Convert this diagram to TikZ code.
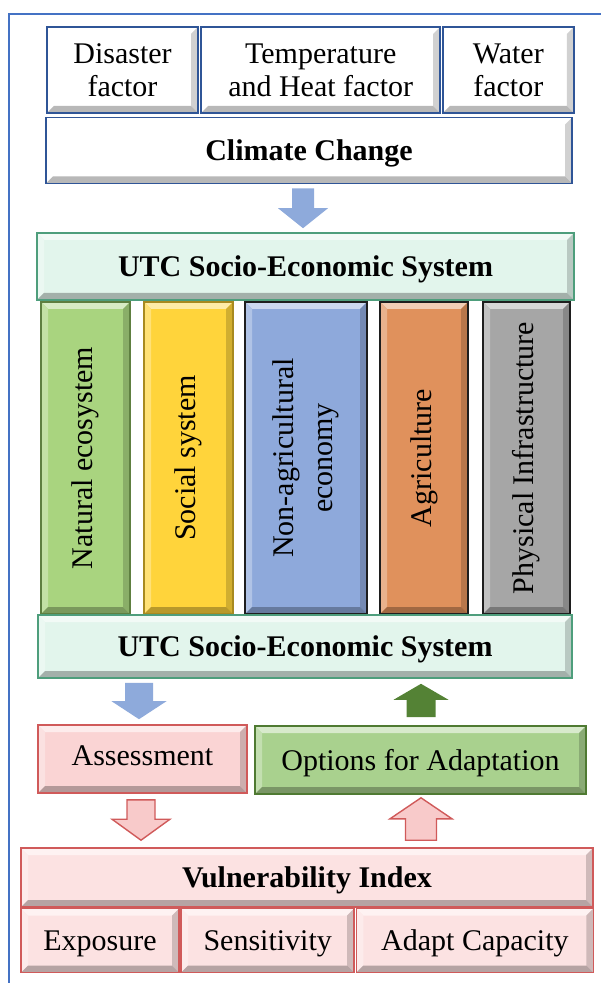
\documentclass[tikz,border=0pt]{standalone}
\usepackage{fontspec}
\setmainfont{Liberation Serif}
\usepackage{tikz,graphicx}
\usetikzlibrary{calc,positioning}

\definecolor{frameblue}{HTML}{4472C4}
\definecolor{factorline}{HTML}{2F5597}
\definecolor{mint}{HTML}{E2F5EC}
\definecolor{mintline}{HTML}{4E9E7C}
\definecolor{natgreen}{HTML}{A9D47F}
\definecolor{natline}{HTML}{5E7F40}
\definecolor{socyellow}{HTML}{FFD43B}
\definecolor{socline}{HTML}{A88A20}
\definecolor{nonblue}{HTML}{8EA9DB}
\definecolor{agrorange}{HTML}{E0915C}
\definecolor{phygray}{HTML}{A6A6A6}
\definecolor{darkline}{HTML}{1E1E1E}
\definecolor{pinkfill}{HTML}{FCE2E2}
\definecolor{assesfill}{HTML}{FAD4D4}
\definecolor{pinkline}{HTML}{D05A5A}
\definecolor{optgreen}{HTML}{A9D18E}
\definecolor{optline}{HTML}{4F7A32}
\definecolor{arrowblue}{HTML}{8EAADB}
\definecolor{arrowgreen}{HTML}{548235}
\definecolor{arrowpink}{HTML}{F8CACA}

% bevelled edges drawn inside a box
\newcommand{\bevelfaces}[1]{%
  \fill[#1!45!white] (path picture bounding box.north west) -- (path picture bounding box.north east)
    -- ([shift={(-3.5pt,-3.5pt)}]path picture bounding box.north east) -- ([shift={(3.5pt,-3.5pt)}]path picture bounding box.north west) -- cycle;
  \fill[#1!70!white] (path picture bounding box.north west) -- (path picture bounding box.south west)
    -- ([shift={(3.5pt,3.5pt)}]path picture bounding box.south west) -- ([shift={(3.5pt,-3.5pt)}]path picture bounding box.north west) -- cycle;
  \fill[#1!82!black] (path picture bounding box.north east) -- (path picture bounding box.south east)
    -- ([shift={(-3.5pt,3.5pt)}]path picture bounding box.south east) -- ([shift={(-3.5pt,-3.5pt)}]path picture bounding box.north east) -- cycle;
  \fill[#1!72!black] (path picture bounding box.south west) -- (path picture bounding box.south east)
    -- ([shift={(-3.5pt,3.5pt)}]path picture bounding box.south east) -- ([shift={(3.5pt,3.5pt)}]path picture bounding box.south west) -- cycle;
}

% fat block arrow: style, tail, tip, half shaft, half head, head length
\newcommand{\fatarrow}[6]{%
  \coordinate (fa tail) at #2;
  \coordinate (fa tip) at #3;
  \coordinate (fa base) at ($(fa tip)!#6!(fa tail)$);
  \path[#1] ($(fa tail)!#4!90:(fa tip)$) -- ($(fa base)!#4!90:(fa tip)$) -- ($(fa base)!#5!90:(fa tip)$)
    -- (fa tip) -- ($(fa base)!#5!-90:(fa tip)$) -- ($(fa base)!#4!-90:(fa tip)$) -- ($(fa tail)!#4!-90:(fa tip)$) -- cycle;
}

\begin{document}
\begin{tikzpicture}[x=0.5pt,y=-0.5pt,
bev/.style 2 args={fill=#1, draw=#2, line width=0.8pt, path picture={\bevelfaces{#1}},
  inner sep=0pt, align=center, text depth=0pt, font=\fontsize{15}{16.5}\selectfont},
bold/.style={font=\fontsize{15}{16.5}\selectfont\bfseries},
blockblue/.style={fill=arrowblue},
blockgreen/.style={fill=arrowgreen},
blockpink/.style={fill=arrowpink, draw=pinkline, line width=0.7pt}
]
\useasboundingbox (0,0) rectangle (601,983);
\draw[frameblue, line width=1pt] (9,983) -- (9,14) -- (601,14);

% climate factors
\node[bev={white}{factorline}, minimum width=75.5pt, minimum height=43pt] (dis) at (122.5,70) {Disaster\\factor};
\node[bev={white}{factorline}, minimum width=119.5pt, minimum height=43pt, right=0.8pt of dis] (temp) {Temperature\\and Heat factor};
\node[bev={white}{factorline}, minimum width=65.5pt, minimum height=43pt, right=0.5pt of temp] (water) {Water\\factor};
\node[bev={white}{factorline}, bold, minimum width=263pt, minimum height=33pt] (clim) at (309,150.5) {Climate Change};

% socio-economic system
\node[bev={mint}{mintline}, bold, minimum width=268.5pt, minimum height=33.5pt] (utc1) at (305.5,266.5) {UTC Socio-Economic System};
\node[bev={natgreen}{natline}, minimum width=44.5pt, minimum height=156pt] (nat) at (85.5,458) {\rotatebox{90}{Natural ecosystem}};
\node[bev={socyellow}{socline}, minimum width=44.5pt, minimum height=156pt] (soc) at (188.5,458) {\rotatebox{90}{Social system}};
\node[bev={nonblue}{darkline}, minimum width=61pt, minimum height=156pt] (non) at (306,458)
  {\rotatebox{90}{\begin{tabular}{@{}c@{}}Non-agricultural\\[3pt]economy\end{tabular}}};
\node[bev={agrorange}{darkline}, minimum width=44pt, minimum height=156pt] (agr) at (424,458) {\rotatebox{90}{Agriculture}};
\node[bev={phygray}{darkline}, minimum width=43.5pt, minimum height=156pt] (phy) at (526.5,458) {\rotatebox{90}{Physical Infrastructure}};
\node[bev={mint}{mintline}, bold, minimum width=267pt, minimum height=31.5pt] (utc2) at (305,646.5) {UTC Socio-Economic System};

% assessment and adaptation
\node[bev={assesfill}{pinkline}, minimum width=104.5pt, minimum height=34pt, text depth=3pt] (asses) at (142.5,759) {Assessment};
\node[bev={optgreen}{optline}, minimum width=165.5pt, minimum height=34pt] (opt) at (420.5,760) {Options for Adaptation};

% vulnerability
\node[bev={pinkfill}{pinkline}, bold, minimum width=286pt, minimum height=29.5pt] (vi) at (307,877.5) {Vulnerability Index};
\node[bev={pinkfill}{pinkline}, minimum width=79pt, minimum height=32pt] (expo) at (100,940.5) {Exposure};
\node[bev={pinkfill}{pinkline}, minimum width=86.5pt, minimum height=32pt, right=0.3pt of expo] (sens) {Sensitivity};
\node[bev={pinkfill}{pinkline}, minimum width=118.5pt, minimum height=32pt, right=0.3pt of sens] (adapt) {Adapt Capacity};

% arrows between the boxes
\fatarrow{blockblue}{($(clim.south)+(-6,4)$)}{($(utc1.north)+(-2.5,-4)$)}{5.5pt}{12.5pt}{10pt}
\fatarrow{blockblue}{($(utc2.south -| asses.north)+(-3.5,4)$)}{($(asses.north)+(-3.5,-5)$)}{7pt}{13.75pt}{9pt}
\fatarrow{blockgreen}{($(opt.north)+(0.5,-8)$)}{($(utc2.south -| opt.north)+(0.5,5)$)}{7.25pt}{13.75pt}{8pt}
\fatarrow{blockpink}{($(asses.south)+(-1.5,6)$)}{($(vi.north -| asses.south)+(-1.5,-7)$)}{7pt}{14.5pt}{10.5pt}
\fatarrow{blockpink}{($(vi.north -| opt.south)+(0.5,-7)$)}{($(opt.south)+(0.5,3)$)}{7.75pt}{15.5pt}{10.5pt}
\end{tikzpicture}
\end{document}
